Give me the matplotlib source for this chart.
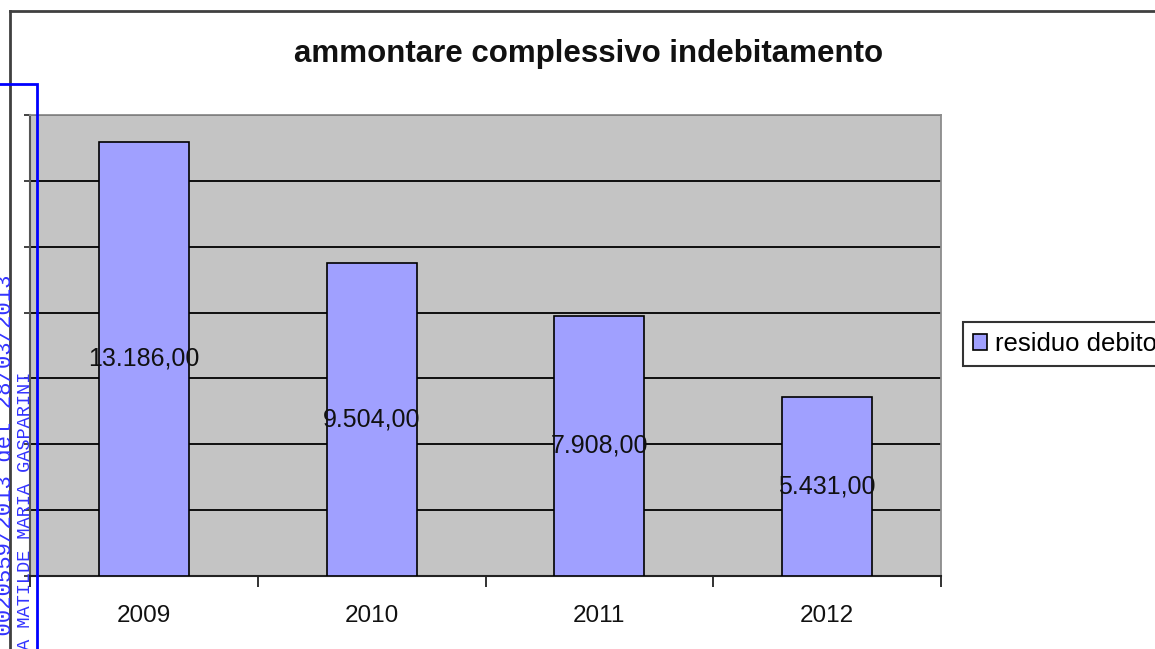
import matplotlib.pyplot as plt
from matplotlib.patches import Rectangle
from matplotlib.lines import Line2D

anni = ['2009', '2010', '2011', '2012']
residuo_debito = [13186.00, 9504.00, 7908.00, 5431.00]
y_max = 14000
y_passo = 2000


def formato_it(v):
    # 13186.0 -> "13.186,00"
    s = f"{v:,.2f}"
    return s.replace(',', 'X').replace('.', ',').replace('X', '.')


plt.rcParams['font.family'] = ['Liberation Sans', 'DejaVu Sans']

W, H = 1155, 649
fig = plt.figure(figsize=(W / 100, H / 100), dpi=100)
fig.patch.set_facecolor('white')

# bordo dell'area del grafico
fig.add_artist(Line2D([10 / W, 10 / W], [0, 1 - 11 / H], transform=fig.transFigure,
                      color='#404040', lw=2))
fig.add_artist(Line2D([10 / W, 1], [1 - 11 / H, 1 - 11 / H], transform=fig.transFigure,
                      color='#404040', lw=2))

ax = fig.add_axes([30 / W, 1 - 576 / H, (941 - 30) / W, (576 - 115) / H])
ax.set_facecolor('#C4C4C4')

x = range(len(anni))
barre = ax.bar(x, residuo_debito, width=0.395, color='#A0A0FF', edgecolor='black',
               linewidth=1.2, label='residuo debito', zorder=3)

for xi, v in zip(x, residuo_debito):
    ax.text(xi, v / 2, formato_it(v), ha='center', va='center', fontsize=18,
            color='#111111', zorder=4)

ax.set_xlim(-0.5, len(anni) - 0.5)
ax.set_ylim(0, y_max)
ax.set_yticks(range(0, y_max + 1, y_passo))
ax.set_yticklabels([])
ax.yaxis.grid(True, color='black', lw=1.3, zorder=1)
ax.tick_params(axis='y', direction='out', length=4, width=1.2, color='#222222')

# tacche tra le categorie, etichette al centro
ax.set_xticks([i - 0.5 for i in range(len(anni) + 1)])
ax.set_xticklabels([])
ax.set_xticks(list(x), minor=True)
ax.set_xticklabels(anni, minor=True, fontsize=17.5, color='#111111')
ax.tick_params(axis='x', which='major', direction='out', length=8, width=1.3, color='#222222')
ax.tick_params(axis='x', which='minor', length=0, pad=21)

for lato in ['top', 'right']:
    ax.spines[lato].set_color('#8C8C8C')
    ax.spines[lato].set_linewidth(1.3)
ax.spines['bottom'].set_color('#222222')
ax.spines['bottom'].set_linewidth(1.5)
ax.spines['left'].set_color('#555555')
ax.spines['left'].set_linewidth(1.5)

fig.text(589 / W, 1 - 54 / H, 'ammontare complessivo indebitamento', ha='center',
         va='center', fontsize=22.5, fontweight='bold', color='#111111')

leg = fig.legend(handles=[barre], loc='center left', bbox_to_anchor=(963 / W, 1 - 344 / H),
                 fontsize=18.5, frameon=True, fancybox=False, edgecolor='black',
                 handlelength=0.56, handleheight=0.56, handletextpad=0.3,
                 borderpad=0.38, borderaxespad=0)
leg.get_frame().set_linewidth(1.5)

# timbro di protocollo sul margine sinistro
fig.add_artist(Rectangle((-10 / W, -10 / H), 47 / W, (H - 84 + 10) / H,
                         transform=fig.transFigure, fill=False, edgecolor='#0000FF',
                         lw=2, zorder=10))
fig.text(6 / W, 1 - 275 / H, 'Prot. N. 0020559/2013 del 28/03/2013', rotation=90,
         ha='center', va='top', fontsize=16, family='Liberation Mono', color='#3333FF',
         zorder=11)
fig.text(26 / W, 1 - 372 / H, 'FIRMATO DA MATILDE MARIA GASPARINI', rotation=90,
         ha='center', va='top', fontsize=13.4, family='Liberation Mono', color='#3333FF',
         zorder=11)

fig.savefig('out.png', dpi=100)
